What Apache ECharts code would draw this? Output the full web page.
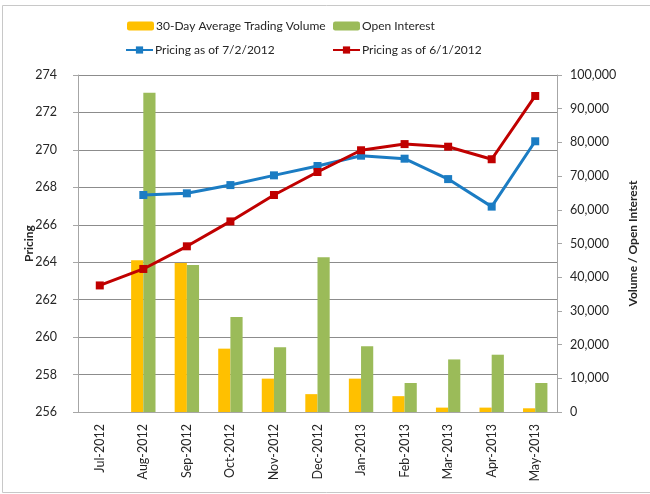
<!DOCTYPE html>
<html>
<head>
<meta charset="utf-8">
<script src="https://cdn.jsdelivr.net/npm/echarts@6/dist/echarts.min.js"></script>
<style>
  body { margin: 0; background: #fff; }
  #main { width: 650px; height: 494px; }
</style>
</head>
<body>
<div id="main"></div>
<script>
    var months = ['Jul-2012', 'Aug-2012', 'Sep-2012', 'Oct-2012', 'Nov-2012', 'Dec-2012',
        'Jan-2013', 'Feb-2013', 'Mar-2013', 'Apr-2013', 'May-2013'];
    var avgVolume = [null, 45000, 44200, 18800, 9900, 5300, 9900, 4700, 1300, 1300, 1100];
    var openInterest = [null, 94700, 43600, 28200, 19200, 45900, 19500, 8600, 15600, 17000, 8600];
    var priceJul2 = [null, 267.59, 267.68, 268.12, 268.64, 269.14, 269.69, 269.53, 268.44, 266.97, 270.46];
    var priceJun1 = [262.76, 263.64, 264.85, 266.18, 267.59, 268.82, 269.98, 270.31, 270.17, 269.5, 272.88];

    var font = 'Lato, "Open Sans", sans-serif';
    var textColor = '#262626';

    function legendFor(name, left, top) {
        return {
            data: [name],
            left: left,
            top: top,
            itemWidth: 27,
            itemHeight: 9,
            itemGap: 4,
            padding: 0,
            textStyle: {fontFamily: font, fontSize: 12, color: textColor, padding: [0, 0, 0, -3]}
        };
    }

    var myChart = echarts.init(document.getElementById('main'));
    myChart.setOption({
        animation: false,
        textStyle: {fontFamily: font},
        graphic: [{
            type: 'rect',
            shape: {x: 2.5, y: 5.5, width: 700, height: 487},
            style: {fill: 'none', stroke: '#c8c8c8', lineWidth: 1},
            silent: true
        }],
        legend: [
            legendFor('30-Day Average Trading Volume', 127, 20),
            legendFor('Open Interest', 333, 20),
            legendFor('Pricing as of 7/2/2012', 125, 44),
            legendFor('Pricing as of 6/1/2012', 332, 44)
        ],
        grid: {left: 78, right: 93, top: 75, bottom: 82},
        xAxis: {
            type: 'category',
            data: months,
            axisLine: {lineStyle: {color: '#a6a6a6'}},
            axisTick: {alignWithLabel: false, length: 5, lineStyle: {color: '#a6a6a6'}},
            axisLabel: {rotate: 90, margin: 12, fontSize: 12.5, color: textColor, interval: 0}
        },
        yAxis: [
            {
                type: 'value',
                min: 256,
                max: 274,
                interval: 2,
                name: 'Pricing',
                nameLocation: 'middle',
                nameGap: 43,
                nameRotate: 90,
                nameMoveOverlap: false,
                nameTextStyle: {fontWeight: 'bold', fontSize: 12, color: textColor},
                axisLine: {show: true, lineStyle: {color: '#a6a6a6'}},
                axisTick: {show: true, length: 5, lineStyle: {color: '#a6a6a6'}},
                axisLabel: {margin: 21, fontSize: 12.5, color: textColor},
                splitLine: {lineStyle: {color: '#8c8c8c', width: 1}}
            },
            {
                type: 'value',
                min: 0,
                max: 100000,
                interval: 10000,
                name: 'Volume / Open Interest',
                nameLocation: 'middle',
                nameGap: 70,
                nameRotate: 90,
                nameMoveOverlap: false,
                nameTextStyle: {fontWeight: 'bold', fontSize: 12, color: textColor},
                axisLine: {show: true, lineStyle: {color: '#a6a6a6'}},
                axisTick: {show: true, length: 5, lineStyle: {color: '#a6a6a6'}},
                axisLabel: {
                    margin: 13, fontSize: 12.5, color: textColor,
                    formatter: function (v) {
                        return v.toLocaleString('en-US');
                    }
                },
                splitLine: {show: false}
            }
        ],
        series: [
            {
                name: '30-Day Average Trading Volume',
                type: 'bar',
                yAxisIndex: 1,
                data: avgVolume,
                barGap: '0%',
                barCategoryGap: '44%',
                itemStyle: {color: '#FFC000'}
            },
            {
                name: 'Open Interest',
                type: 'bar',
                yAxisIndex: 1,
                data: openInterest,
                itemStyle: {color: '#9BBB59'}
            },
            {
                name: 'Pricing as of 7/2/2012',
                type: 'line',
                yAxisIndex: 0,
                data: priceJul2,
                symbol: 'rect',
                symbolSize: 8,
                lineStyle: {color: '#1B7CC3', width: 3},
                itemStyle: {color: '#1B7CC3'}
            },
            {
                name: 'Pricing as of 6/1/2012',
                type: 'line',
                yAxisIndex: 0,
                data: priceJun1,
                symbol: 'rect',
                symbolSize: 8,
                lineStyle: {color: '#C00000', width: 3},
                itemStyle: {color: '#C00000'}
            }
        ]
    });
</script>
</body>
</html>
